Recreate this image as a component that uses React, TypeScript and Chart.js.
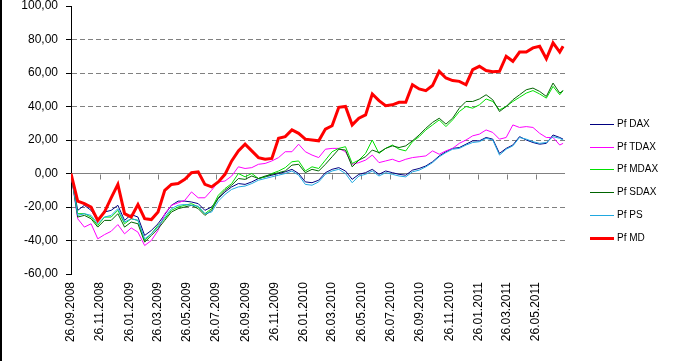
import React, { useEffect, useRef } from "react";
import { Chart, registerables } from "chart.js";

Chart.register(...registerables);

const FONT = "'Liberation Sans', Arial, sans-serif";

const SERIES_NAMES = ["Pf DAX", "Pf TDAX", "Pf MDAX", "Pf SDAX", "Pf PS", "Pf MD"];
const SERIES_COLORS = ["#000080", "#FF00FF", "#00E000", "#006400", "#20A8E0", "#FF0000"];
const SERIES_WIDTHS = [1, 1, 1, 1, 1, 3];

const START_DATE = "26.09.2008";
const AXIS_END_DATE = "26.07.2011";
const LAST_SAMPLE_DATE = "22.07.2011";
const SAMPLE_STEP_DAYS = 14;

const X_TICK_LABELS = [
  "26.09.2008", "26.11.2008", "26.01.2009", "26.03.2009", "26.05.2009", "26.07.2009",
  "26.09.2009", "26.11.2009", "26.01.2010", "26.03.2010", "26.05.2010", "26.07.2010",
  "26.09.2010", "26.11.2010", "26.01.2011", "26.03.2011", "26.05.2011",
];

const Y_TICKS = [-60, -40, -20, 0, 20, 40, 60, 80, 100];

const PF_DAX = [
  0, -22, -19, -22, -28, -23, -22, -19, -28, -24.5,
  -26, -37, -34, -30, -24.5, -19, -16.5, -16.5, -17, -18,
  -22, -20, -15, -11, -8, -6, -6.5, -5, -3, -2,
  -1, 0, 1, 2.5, 0, -5, -5.5, -4, 0.5, 2.5,
  3.5, 1.5, -3.5, -0.5, 0.5, 2.5, -0.5, 1.5, 0.5, -0.5,
  -1, 2, 3, 4.5, 7, 10.5, 13, 15, 15.5, 17.5,
  19.5, 19.5, 21.5, 20.5, 12, 15, 17, 22, 20, 18.5,
  17.5, 18, 23, 21.5, 20.5,
];

const PF_TDAX = [
  0, -27, -32, -30, -39, -36.5, -34.5, -30.5, -36, -32.5,
  -35, -43, -40, -34, -24, -19, -17.5, -16, -11, -14.5,
  -14.5, -10, -5, -4.5, -1.5, 4, 3, 3.5, 5.5, 6,
  7.5, 9.5, 13, 13, 17.5, 13, 11, 9.5, 14.5, 15,
  15, 13, 5.5, 6.5, 8, 11, 6.5, 7.5, 8.5, 7,
  8.5, 9.5, 10, 10.5, 13.5, 11.5, 13.5, 15, 18, 20,
  22.5, 23.5, 26, 24.5, 20.5, 21.5, 29, 27.5, 28, 27.5,
  24, 21.5, 21.5, 17, 18,
];

const PF_MDAX = [
  0, -24, -24, -26, -31, -26, -26, -22, -30, -27,
  -28, -40, -36, -31, -27, -22, -20, -19, -18, -20,
  -24, -21, -13, -9, -6, 0, -2, 0, -3, -2,
  0, 1.5, 3.5, 7, 7.5, 1.5, 4, 3, 8, 13,
  15, 16, 6, 8, 12, 20, 12, 15, 17, 14.5,
  13.5, 19, 22, 26, 29, 32, 28, 32, 37, 40,
  39, 41, 44.5, 43, 38, 40, 43, 45.5, 48, 49.5,
  47.5, 45, 52, 47, 49.5,
];

const PF_SDAX = [
  0, -26, -25, -27, -32, -28, -28, -24, -32, -29,
  -30, -41, -37, -33, -28, -23, -21, -20, -19, -21,
  -25, -22, -14.5, -10, -7, -3, -3.5, -1.5, -3, -1.5,
  -0.5, 0.5, 1.5, 5, 5.5, 0.5, 2.5, 1.5, 5.5, 10,
  14.5, 14, 4, 8, 10, 14, 12.5, 15, 16.5, 15.5,
  16.5, 19.5, 23, 27, 30.5, 33, 29.5, 33, 39, 43,
  43, 44.5, 47, 44, 37, 40, 44, 47, 50, 51,
  49, 46, 54, 48, 49.5,
];

const PF_PS = [
  0, -25, -24, -25, -30, -26, -25, -21, -29, -27,
  -28, -39, -36, -32, -26, -21, -19, -18.5, -19, -19.5,
  -24, -23, -16.5, -12.5, -9.5, -8, -7.5, -6, -4, -3,
  -2, -1, 0, 1.5, -1, -6.5, -7, -5, -0.5, 1.5,
  2.5, 0, -5.5, -1.5, -0.5, 1.5, -1.5, 0.5, -0.5, -1.5,
  -2, 1, 2, 4, 6.5, 10, 12.5, 14.5, 15, 17,
  18.5, 19, 21, 20, 11, 14.5, 16.5, 21.5, 20.5, 19,
  18, 18.5, 22, 21, 20,
];

const PF_MD = [
  0, -16.5, -18, -20, -28, -23, -14.5, -6.5, -24, -26,
  -18.5, -27, -27.5, -23, -10, -6.5, -6, -3.5, 0.5, 1,
  -6.5, -8, -5, -0.5, 7.5, 13.5, 17.5, 13.5, 9.5, 8.5,
  9, 21, 22, 26, 24, 20.5, 20, 19.5, 26.5, 28.5,
  39.5, 40, 29, 33, 35, 47.5, 43.5, 40.5, 41, 42.5,
  42.5, 53, 50.5, 49.5, 52.5, 61, 57, 55.5, 55, 53,
  62, 64, 61.5, 60.7, 61, 70, 67, 72.5, 72.5, 75,
  76, 68.5, 78, 72.5, 76,
];

const SERIES_VALUES = [PF_DAX, PF_TDAX, PF_MDAX, PF_SDAX, PF_PS, PF_MD];

function parseDay(s: string): number {
  const [d, m, y] = s.split(".").map(Number);
  const [d0, m0, y0] = START_DATE.split(".").map(Number);
  return Math.round((Date.UTC(y, m - 1, d) - Date.UTC(y0, m0 - 1, d0)) / 86400000);
}

const decorPlugin = {
  id: "decor",
  beforeDatasetsDraw(chart: any) {
    const ctx = chart.ctx;
    const x = chart.scales.x;
    const y = chart.scales.y;
    const y0 = Math.round(y.getPixelForValue(0)) + 0.5;
    ctx.save();
    ctx.strokeStyle = "#808080";
    ctx.lineWidth = 1;
    x.ticks.forEach((t: any) => {
      const px = Math.round(x.getPixelForValue(t.value)) + 0.5;
      ctx.beginPath();
      ctx.moveTo(px, y0);
      ctx.lineTo(px, y0 + 5);
      ctx.stroke();
    });
    ctx.restore();
  },
  afterDraw(chart: any) {
    const ctx = chart.ctx;
    ctx.save();
    ctx.font = `10px ${FONT}`;
    ctx.textBaseline = "middle";
    ctx.fillStyle = "#000";
    chart.data.datasets.forEach((ds: any, i: number) => {
      const cy = Math.round(124 + i * 22.7) + 0.5;
      ctx.strokeStyle = ds.borderColor;
      ctx.lineWidth = ds.borderWidth;
      ctx.beginPath();
      ctx.moveTo(590, cy);
      ctx.lineTo(614, cy);
      ctx.stroke();
      ctx.fillText(ds.label, 617, cy);
    });
    ctx.restore();
  },
};

export default function App() {
  const canvasRef = useRef<HTMLCanvasElement | null>(null);

  useEffect(() => {
    if (!canvasRef.current) return;
    const lastDay = parseDay(LAST_SAMPLE_DATE);
    const n = PF_DAX.length;
    const days = Array.from({ length: n }, (_, i) => (i < n - 1 ? i * SAMPLE_STEP_DAYS : lastDay));
    const tickDays = X_TICK_LABELS.map(parseDay);

    const datasets = SERIES_NAMES.map((name, si) => ({
      label: name,
      data: SERIES_VALUES[si].map((v, i) => ({ x: days[i], y: v })),
      borderColor: SERIES_COLORS[si],
      backgroundColor: SERIES_COLORS[si],
      borderWidth: SERIES_WIDTHS[si],
      pointRadius: 0,
      tension: 0,
      fill: false,
      order: si === 5 ? 0 : 6 - si,
    }));

    const chart = new Chart(canvasRef.current, {
      type: "line",
      data: { datasets },
      plugins: [decorPlugin],
      options: {
        responsive: false,
        animation: false,
        devicePixelRatio: 1,
        layout: { padding: { left: 0, top: 6, right: 115, bottom: 0 } },
        plugins: { legend: { display: false }, tooltip: { enabled: false } },
        scales: {
          x: {
            type: "linear",
            min: 0,
            max: parseDay(AXIS_END_DATE),
            grid: { display: false, drawTicks: false },
            border: { display: false },
            afterBuildTicks: (s: any) => {
              s.ticks = tickDays.map((v) => ({ value: v }));
            },
            afterFit: (s: any) => {
              s.height = 87;
              s.paddingLeft = 0;
              s.paddingRight = 0;
            },
            ticks: {
              autoSkip: false,
              minRotation: 90,
              maxRotation: 90,
              padding: 8,
              color: "#000",
              font: { family: FONT, size: 12 },
              callback: (_v: any, i: number) => X_TICK_LABELS[i],
            },
          },
          y: {
            min: -60,
            max: 100,
            afterBuildTicks: (s: any) => {
              s.ticks = Y_TICKS.map((v) => ({ value: v }));
            },
            afterFit: (s: any) => {
              s.width = 71;
              s.paddingTop = 0;
              s.paddingBottom = 0;
            },
            ticks: {
              padding: 8,
              color: "#000",
              font: { family: FONT, size: 12, lineHeight: 1 },
              callback: (v: any) => Number(v).toFixed(2).replace(".", ","),
            },
            grid: {
              drawTicks: true,
              tickLength: 5,
              tickColor: "#000",
              lineWidth: 1,
              color: (c: any) =>
                c.tick && (c.tick.value === 100 || c.tick.value === -60) ? "rgba(0,0,0,0)" : "#808080",
            },
            border: {
              display: true,
              color: "#000",
              width: 1,
              dash: (c: any) => (c.tick && c.tick.value !== 0 ? [5, 3] : []),
            },
          },
        },
      } as any,
    });
    return () => chart.destroy();
  }, []);

  return (
    <div style={{ position: "absolute", left: 0, top: 0, width: 680, height: 361, background: "#fff" }}>
      <canvas ref={canvasRef} width={680} height={361} style={{ display: "block" }} />
      <div style={{ position: "absolute", left: 0, top: 0, width: 2, height: 361, background: "#000" }} />
    </div>
  );
}
